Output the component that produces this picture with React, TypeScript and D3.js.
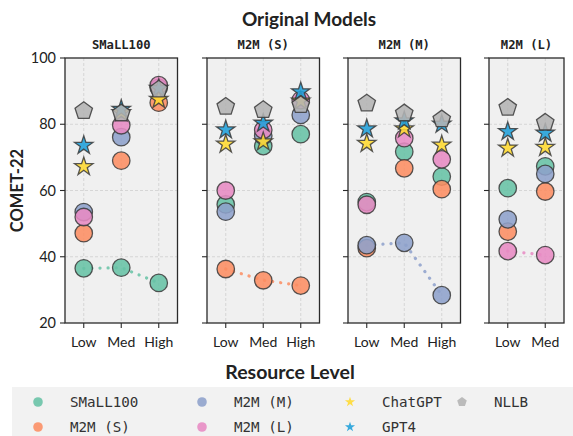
import * as d3 from "d3";

const levels = ["Low", "Med", "High"];
const models = ["SMaLL100", "M2M (S)", "M2M (M)", "M2M (L)", "ChatGPT", "GPT4", "NLLB"];
const colors = ["#66c2a5", "#fc8d62", "#8da0cb", "#e78ac3", "#ffd92f", "#1f9fd9", "#b3b3b3"];
const shapes = ["circle", "circle", "circle", "circle", "star", "star", "pentagon"];
const panels = ["SMaLL100", "M2M (S)", "M2M (M)", "M2M (L)"];
const yTicks = [20, 40, 60, 80, 100];

// values per panel, one row per model (Low, Med, High)
const small100Vals = [
  [36.5, 36.7, 32.1],
  [47.1, 69.0, 86.5],
  [53.5, 76.1, 91.0],
  [52.0, 79.7, 91.8],
  [67.2, 83.5, 87.5],
  [73.6, 84.5, 90.8],
  [84.0, 83.3, 90.5],
];
const m2mSVals = [
  [55.8, 73.4, 77.0],
  [36.3, 32.9, 31.3],
  [53.6, 76.5, 82.8],
  [60.0, 78.3, 87.3],
  [74.0, 74.7, 87.0],
  [78.3, 80.3, 89.8],
  [85.3, 84.3, 85.8],
];
const m2mMVals = [
  [56.5, 71.7, 64.2],
  [42.6, 66.7, 60.4],
  [43.5, 44.2, 28.4],
  [55.7, 75.8, 69.4],
  [74.2, 78.6, 73.7],
  [78.6, 81.0, 80.0],
  [86.3, 83.3, 81.5],
];
const m2mLVals = [
  [60.7, 67.3],
  [47.6, 59.7],
  [51.3, 65.0],
  [41.7, 40.5],
  [72.8, 73.0],
  [77.8, 77.3],
  [85.0, 80.5],
];
const panelVals = [small100Vals, m2mSVals, m2mMVals, m2mLVals];
const panelLevels = [levels, levels, levels, levels.slice(0, 2)];

const pentagon = {
  draw(ctx: any, size: number) {
    const r = Math.sqrt(size / 2.378);
    for (let i = 0; i < 5; i++) {
      const a = -Math.PI / 2 + (i * 2 * Math.PI) / 5;
      const x = r * Math.cos(a), y = r * Math.sin(a);
      if (i === 0) ctx.moveTo(x, y);
      else ctx.lineTo(x, y);
    }
    ctx.closePath();
  },
};

function symbolPath(shape: string, scale: number) {
  if (shape === "star") return d3.symbol(d3.symbolStar, 105 * scale)()!;
  if (shape === "pentagon") return d3.symbol(pentagon as any, 200 * scale)()!;
  return d3.symbol(d3.symbolCircle, 240 * scale)()!;
}

const W = 573, H = 436;
const top = 58, bottom = 323;
const panelX = [65, 207, 348, 489];
const step = 37.5;

export default function App() {
  const y = d3.scaleLinear().domain([20, 100]).range([bottom, top]);
  const mono = "'DejaVu Sans Mono', monospace";
  const sans = "Lato, 'Open Sans', sans-serif";

  return (
    <svg width={W} height={H} style={{ position: "absolute", left: 0, top: 0 }}>
      <rect width={W} height={H} fill="#fff" />
      <text x={309} y={26} textAnchor="middle" fontFamily={sans} fontWeight={700} fontSize={19} fill="#222">
        Original Models
      </text>
      <text transform={`translate(23,${(top + bottom) / 2}) rotate(-90)`} textAnchor="middle" fontFamily={sans} fontWeight={700} fontSize={16.5} fill="#222">
        COMET-22
      </text>
      {panels.map((name, pi) => {
        const lv = panelLevels[pi];
        const x0 = panelX[pi];
        const w = step * lv.length;
        const x = d3.scalePoint<string>().domain(lv).range([x0, x0 + w]).padding(0.5);
        const vals = panelVals[pi];
        const self = pi;
        const line = d3.line<number>().x((_, i) => x(lv[i])!).y(v => y(v));
        return (
          <g key={name}>
            <rect x={x0} y={top} width={w} height={bottom - top} fill="#f0f0f0" />
            {yTicks.slice(1, -1).map(t => (
              <line key={t} x1={x0} x2={x0 + w} y1={y(t)} y2={y(t)} stroke="#cfcfcf" strokeDasharray="3 2" strokeWidth={0.8} />
            ))}
            {lv.map(l => (
              <line key={l} x1={x(l)} x2={x(l)} y1={top} y2={bottom} stroke="#cfcfcf" strokeDasharray="3 2" strokeWidth={0.8} />
            ))}
            <path d={line(vals[self])!} fill="none" stroke={colors[self]} strokeWidth={3.2} strokeDasharray="0.1 8" strokeLinecap="round" opacity={0.85} />
            {vals.map((row, mi) =>
              row.map((v, li) => (
                <path
                  key={`${mi}-${li}`}
                  d={symbolPath(shapes[mi], 1)}
                  transform={`translate(${x(lv[li])},${y(v)})`}
                  fill={colors[mi]}
                  fillOpacity={0.88}
                  stroke="#3a3a3a"
                  strokeWidth={1.3}
                  strokeOpacity={0.85}
                />
              ))
            )}
            <rect x={x0} y={top} width={w} height={bottom - top} fill="none" stroke="#2a2a2a" strokeWidth={1.3} />
            {yTicks.map(t => (
              <line key={t} x1={x0 - 5} x2={x0} y1={y(t)} y2={y(t)} stroke="#2a2a2a" strokeWidth={1.1} />
            ))}
            {lv.map(l => (
              <g key={l}>
                <line x1={x(l)} x2={x(l)} y1={bottom} y2={bottom + 5} stroke="#2a2a2a" strokeWidth={1.1} />
                <text x={x(l)} y={bottom + 24} textAnchor="middle" fontFamily={sans} fontSize={14} fill="#222">
                  {l}
                </text>
              </g>
            ))}
            <text x={x0 + w / 2} y={top - 9} textAnchor="middle" fontFamily={mono} fontWeight={700} fontSize={12.2} fill="#222">
              {name}
            </text>
          </g>
        );
      })}
      {yTicks.map(t => (
        <text key={t} x={56} y={y(t) + 5} textAnchor="end" fontFamily={sans} fontSize={14.5} fill="#222">
          {t}
        </text>
      ))}
      <text x={290} y={379} textAnchor="middle" fontFamily={sans} fontWeight={700} fontSize={19.5} fill="#222">
        Resource Level
      </text>
      <rect x={12} y={387} width={W - 12} height={H - 387} fill="#f2f2f2" />
      {models.map((m, i) => {
        const col = Math.floor(i / 2);
        const row = i % 2;
        const mx = [38, 202, 350, 462][col];
        const my = 402 + row * 25;
        return (
          <g key={m}>
            <path d={symbolPath(shapes[i], 0.3)} transform={`translate(${mx},${my})`} fill={colors[i]} fillOpacity={0.88} />
            <text x={mx + 32} y={my + 5} fontFamily={mono} fontSize={14.2} fill="#333">
              {m}
            </text>
          </g>
        );
      })}
    </svg>
  );
}
